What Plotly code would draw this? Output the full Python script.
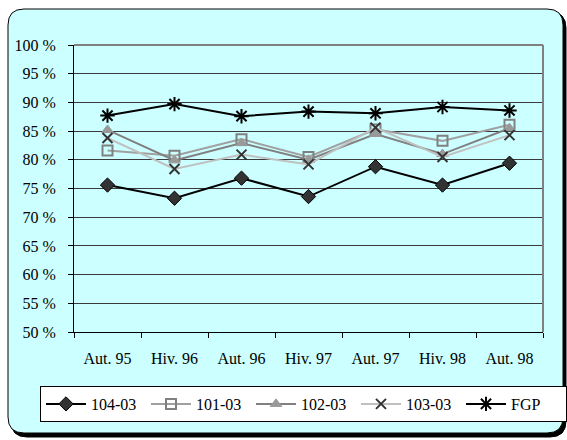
import plotly.graph_objects as go

# Survey periods and percentage results per group
periods = ["Aut. 95", "Hiv. 96", "Aut. 96", "Hiv. 97", "Aut. 97", "Hiv. 98", "Aut. 98"]
s_104_03 = [75.6, 73.3, 76.8, 73.6, 78.8, 75.6, 79.4]
s_101_03 = [81.6, 80.7, 83.6, 80.5, 85.3, 83.3, 86.1]
s_102_03 = [85.2, 79.9, 82.9, 80.0, 84.5, 81.0, 85.5]
s_103_03 = [83.8, 78.4, 80.9, 79.2, 85.6, 80.5, 84.3]
s_fgp = [87.7, 89.7, 87.6, 88.4, 88.1, 89.2, 88.6]
y_ticks = [50, 55, 60, 65, 70, 75, 80, 85, 90, 95, 100]

W, H = 567, 440
ML, MR, MT, MB = 74, 24, 45, 108
PW, PH = W - ML - MR, H - MT - MB
SERIF = "Times New Roman, Liberation Serif, DejaVu Serif, serif"

def px(x):
    return (x - ML) / PW

def py(y):
    return (H - MB - y) / PH

def rounded_path(x0, y0, x1, y1, r):
    pts = [
        f"M {px(x0 + r)},{py(y0)}",
        f"L {px(x1 - r)},{py(y0)}",
        f"Q {px(x1)},{py(y0)} {px(x1)},{py(y0 + r)}",
        f"L {px(x1)},{py(y1 - r)}",
        f"Q {px(x1)},{py(y1)} {px(x1 - r)},{py(y1)}",
        f"L {px(x0 + r)},{py(y1)}",
        f"Q {px(x0)},{py(y1)} {px(x0)},{py(y1 - r)}",
        f"L {px(x0)},{py(y0 + r)}",
        f"Q {px(x0)},{py(y0)} {px(x0 + r)},{py(y0)}",
        "Z",
    ]
    return " ".join(pts)

fig = go.Figure()

fig.add_trace(go.Scatter(
    x=periods, y=s_104_03, name="104-03", mode="lines+markers",
    line=dict(color="black", width=2),
    marker=dict(symbol="diamond", size=11, color="#333333",
                line=dict(color="black", width=1)),
))
fig.add_trace(go.Scatter(
    x=periods, y=s_101_03, name="101-03", mode="lines+markers",
    line=dict(color="#A0A0A0", width=2),
    marker=dict(symbol="square-open", size=10, color="#808080",
                line=dict(color="#808080", width=2)),
))
fig.add_trace(go.Scatter(
    x=periods, y=s_102_03, name="102-03", mode="lines+markers",
    line=dict(color="#808080", width=2),
    marker=dict(symbol="triangle-up", size=10, color="#999999",
                line=dict(color="#999999", width=1)),
))
fig.add_trace(go.Scatter(
    x=periods, y=s_103_03, name="103-03", mode="lines+markers",
    line=dict(color="#C0C0C0", width=2),
    marker=dict(symbol="x-thin-open", size=10, color="#333333",
                line=dict(color="#333333", width=2)),
))
fig.add_trace(go.Scatter(
    x=periods, y=s_fgp, name="FGP", mode="lines+markers",
    line=dict(color="black", width=2),
    marker=dict(symbol="asterisk-open", size=12, color="black",
                line=dict(color="black", width=2)),
))

shapes = [
    # drop shadow of the frame
    dict(type="path", xref="paper", yref="paper", layer="below",
         path=rounded_path(11, 12, 566, 437, 16),
         fillcolor="black", line=dict(color="black", width=1)),
    # cyan frame
    dict(type="path", xref="paper", yref="paper", layer="below",
         path=rounded_path(8, 9, 563, 433, 16),
         fillcolor="#CCFFFF", line=dict(color="black", width=1)),
    # grey top and right border of the plot area
    dict(type="line", xref="paper", yref="paper", layer="above",
         x0=0, x1=1, y0=1, y1=1, line=dict(color="#808080", width=2)),
    dict(type="line", xref="paper", yref="paper", layer="above",
         x0=1, x1=1, y0=0, y1=1, line=dict(color="#808080", width=2)),
]

fig.update_layout(
    width=W, height=H,
    margin=dict(l=ML, r=MR, t=MT, b=MB, pad=0),
    paper_bgcolor="white",
    plot_bgcolor="white",
    font=dict(family=SERIF, size=16, color="black"),
    shapes=shapes,
    showlegend=True,
    legend=dict(
        orientation="h",
        x=px(42), y=py(386), xanchor="left", yanchor="top",
        bgcolor="white", bordercolor="black", borderwidth=1,
        font=dict(family=SERIF, size=16),
        itemwidth=40,
        entrywidth=50, entrywidthmode="pixels",
        tracegroupgap=0,
    ),
    xaxis=dict(
        type="category",
        range=[-0.5, 6.5],
        showgrid=False,
        showline=True, linecolor="black", linewidth=1,
        ticks="outside", tickson="boundaries", ticklen=5, tickcolor="black",
        ticklabelstandoff=12,
        tickfont=dict(family=SERIF, size=16),
        zeroline=False,
    ),
    yaxis=dict(
        range=[50, 100],
        tickvals=y_ticks,
        ticktext=[f"{v} %" for v in y_ticks],
        showgrid=True, gridcolor="#3A3A3A", gridwidth=1,
        showline=True, linecolor="black", linewidth=1,
        ticks="outside", ticklen=5, tickcolor="black",
        ticklabelstandoff=9,
        tickfont=dict(family=SERIF, size=16),
        zeroline=False,
    ),
)

fig.write_html("out.html")
